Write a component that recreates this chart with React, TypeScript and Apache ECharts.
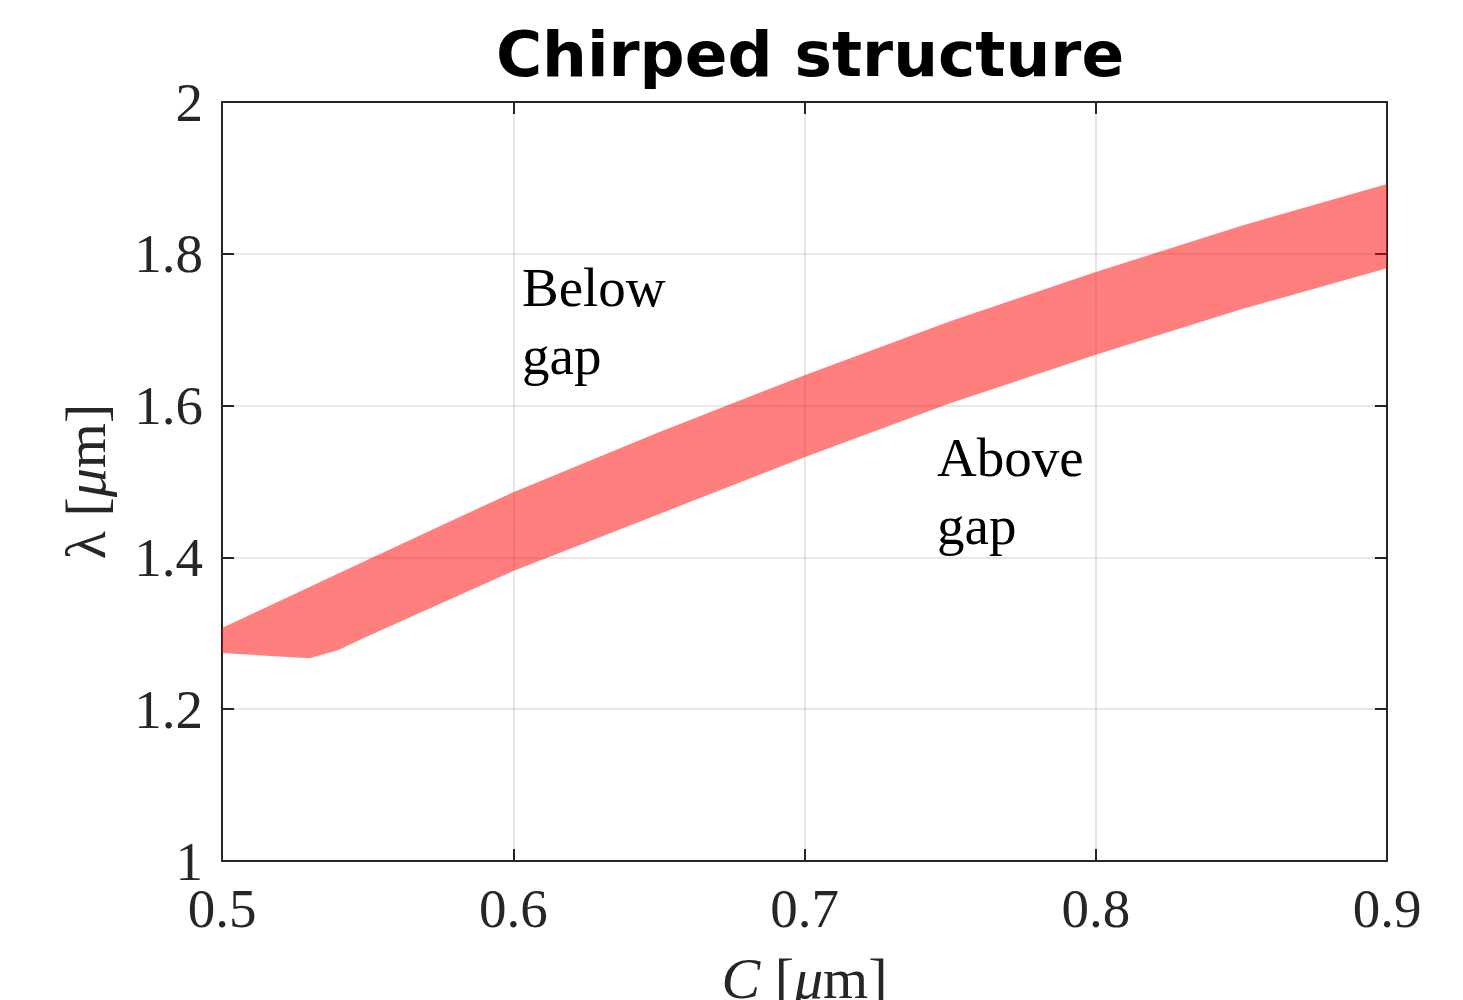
import React, { useEffect, useRef } from "react";
import * as echarts from "echarts";

// Upper edge of the gap band
const cUpper = [0.5, 0.55, 0.6, 0.65, 0.7, 0.75, 0.8, 0.85, 0.9];
const lamUpper = [1.307, 1.397, 1.486, 1.565, 1.64, 1.711, 1.776, 1.837, 1.892];
// Lower edge of the gap band
const cLower = [0.5, 0.53, 0.54, 0.55, 0.6, 0.65, 0.7, 0.75, 0.8, 0.85, 0.9];
const lamLower = [1.274, 1.267, 1.278, 1.296, 1.382, 1.457, 1.532, 1.603, 1.667, 1.727, 1.781];

const xTicks = [0.5, 0.6, 0.7, 0.8, 0.9];
const yTicks = [1, 1.2, 1.4, 1.6, 1.8, 2];

const annotations = [
  { text: "Below\ngap", c: 0.603, lam: 1.8 },
  { text: "Above\ngap", c: 0.7455, lam: 1.5765 },
];

const AX = "#262626";
const SERIF = "'Liberation Serif', 'DejaVu Serif', serif";

export default function App() {
  const ref = useRef<HTMLDivElement>(null);
  useEffect(() => {
    document.body.style.margin = "0";
    if (!ref.current) return;
    const chart = echarts.init(ref.current, null, { renderer: "svg" });
    const fmt = (v: number) => String(parseFloat(v.toFixed(1)));
    const axisCommon = {
      axisLine: { show: true, onZero: false, lineStyle: { color: AX, width: 2 } },
      axisTick: { show: true, inside: true, length: 12, lineStyle: { color: AX, width: 2 } },
    };
    const polygonPts = () => {
      const pts: [number, number][] = [];
      cUpper.forEach((c, i) => pts.push([c, lamUpper[i]]));
      for (let i = cLower.length - 1; i >= 0; i--) pts.push([cLower[i], lamLower[i]]);
      return pts;
    };
    chart.setOption({
      animation: false,
      backgroundColor: "#fff",
      title: {
        text: "Chirped structure",
        left: 805,
        textAlign: "center",
        top: 18,
        textStyle: { fontFamily: "'DejaVu Sans', sans-serif", fontWeight: "bold", fontSize: 63, color: "#000" },
      },
      grid: { left: 222, right: 76, top: 102, bottom: 139, containLabel: false, outerBoundsMode: "none" },
      xAxis: [
        {
          type: "value",
          min: 0.5,
          max: 0.9,
          interval: 0.1,
          position: "bottom",
          ...axisCommon,
          axisLabel: { formatter: fmt, fontFamily: SERIF, fontSize: 55, color: AX, margin: 20 },
          splitLine: { show: true, lineStyle: { color: "rgba(38,38,38,0.15)", width: 1.5 } },
          name: "{i|C} [{i|μ}m]",
          nameLocation: "middle",
          nameGap: 88,
          nameTextStyle: {
            fontFamily: SERIF,
            fontSize: 58,
            color: AX,
            rich: { i: { fontStyle: "italic", fontFamily: SERIF, fontSize: 58, color: AX } },
          },
        },
        {
          type: "value",
          min: 0.5,
          max: 0.9,
          interval: 0.1,
          position: "top",
          ...axisCommon,
          axisLabel: { show: false },
          splitLine: { show: false },
        },
      ],
      yAxis: [
        {
          type: "value",
          min: 1,
          max: 2,
          interval: 0.2,
          position: "left",
          ...axisCommon,
          axisLabel: { formatter: fmt, fontFamily: SERIF, fontSize: 55, color: AX, margin: 19 },
          splitLine: { show: true, lineStyle: { color: "rgba(38,38,38,0.15)", width: 1.5 } },
          name: "λ [{i|μ}m]",
          nameLocation: "middle",
          nameGap: 108,
          nameRotate: 90,
          nameTextStyle: {
            fontFamily: SERIF,
            fontSize: 58,
            color: AX,
            rich: { i: { fontStyle: "italic", fontFamily: SERIF, fontSize: 58, color: AX } },
          },
        },
        {
          type: "value",
          min: 1,
          max: 2,
          interval: 0.2,
          position: "right",
          ...axisCommon,
          axisLabel: { show: false },
          splitLine: { show: false },
        },
      ],
      series: [
        {
          type: "custom",
          xAxisIndex: 0,
          yAxisIndex: 0,
          data: [[0.7, 1.5]],
          z: 5,
          silent: true,
          renderItem: (params: any, api: any) => {
            const points = polygonPts().map((p) => api.coord(p));
            return {
              type: "polygon",
              shape: { points },
              style: { fill: "rgba(255,0,0,0.5)", stroke: "none" },
            };
          },
        },
        {
          type: "custom",
          xAxisIndex: 0,
          yAxisIndex: 0,
          data: annotations.map((a) => [a.c, a.lam]),
          z: 6,
          silent: true,
          renderItem: (params: any, api: any) => {
            const a = annotations[params.dataIndex];
            const pt = api.coord([a.c, a.lam]);
            return {
              type: "text",
              x: pt[0],
              y: pt[1],
              style: {
                text: a.text,
                fill: "#000",
                font: "55px " + SERIF,
                lineHeight: 68,
                align: "left",
                verticalAlign: "top",
              },
            };
          },
        },
      ],
    });
    return () => chart.dispose();
  }, []);
  return <div ref={ref} style={{ width: 1463, height: 1000 }} />;
}
